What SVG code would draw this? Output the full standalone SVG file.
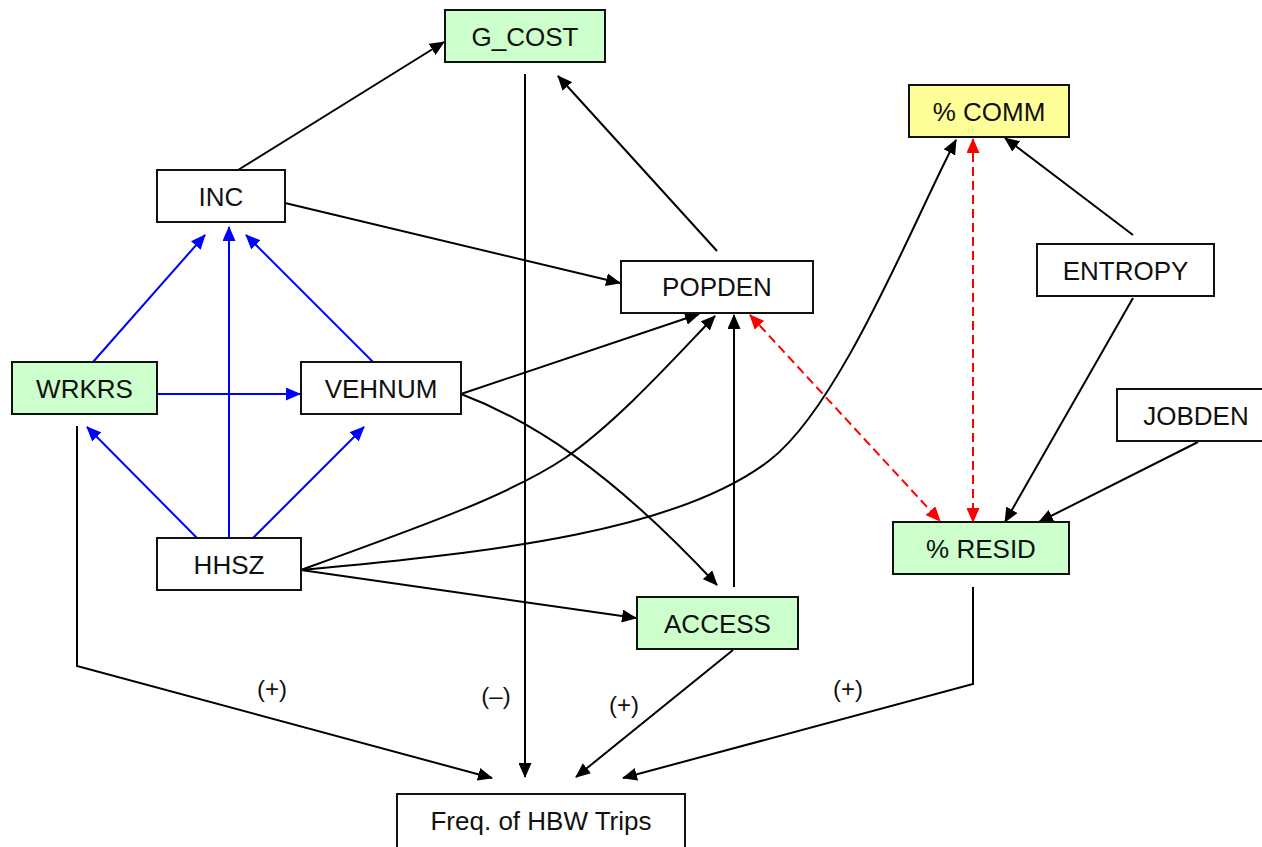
<svg xmlns="http://www.w3.org/2000/svg" width="1262" height="847" viewBox="0 0 1262 847">
  <style>
    .box { fill: #ffffff; stroke: #111111; stroke-width: 2; }
    .green { fill: #ccffcc; }
    .yellow { fill: #ffff99; }
    .lbl { font-family: "Liberation Sans", Arial, sans-serif; font-size: 26px; fill: #111111; text-anchor: middle; }
    .sign { font-family: "Liberation Sans", Arial, sans-serif; font-size: 24px; fill: #111111; text-anchor: middle; }
    .edge { fill: none; stroke: #000000; stroke-width: 2; marker-end: url(#ah); }
    .blue { stroke: #0000ff; marker-end: url(#ahBlue); }
    .red { stroke: #ff0000; stroke-dasharray: 9 5; marker-end: url(#ahRed); marker-start: url(#ahRedStart); }
  </style>
  <defs>
    <marker id="ah" viewBox="0 0 15 13" refX="14" refY="6.5" markerWidth="15" markerHeight="13" markerUnits="userSpaceOnUse" orient="auto">
      <path d="M0,0 L15,6.5 L0,13 z" fill="#000000"/>
    </marker>
    <marker id="ahBlue" viewBox="0 0 15 13" refX="14" refY="6.5" markerWidth="15" markerHeight="13" markerUnits="userSpaceOnUse" orient="auto">
      <path d="M0,0 L15,6.5 L0,13 z" fill="#0000ff"/>
    </marker>
    <marker id="ahRed" viewBox="0 0 15 13" refX="14" refY="6.5" markerWidth="15" markerHeight="13" markerUnits="userSpaceOnUse" orient="auto">
      <path d="M0,0 L15,6.5 L0,13 z" fill="#ff0000"/>
    </marker>
    <marker id="ahRedStart" viewBox="0 0 15 13" refX="1" refY="6.5" markerWidth="15" markerHeight="13" markerUnits="userSpaceOnUse" orient="auto">
      <path d="M15,0 L0,6.5 L15,13 z" fill="#ff0000"/>
    </marker>
  </defs>

  <rect width="1262" height="847" fill="#ffffff"/>

  <!-- connectors -->
  <g id="connectors">
    <!-- household block (blue) -->
    <path class="edge blue" d="M93,362 L205,235"/>
    <path class="edge blue" d="M229,538 L229,227"/>
    <path class="edge blue" d="M373,362 L246,235"/>
    <path class="edge blue" d="M157,394 L300,394"/>
    <path class="edge blue" d="M197,538 L87,427"/>
    <path class="edge blue" d="M253,538 L364,427"/>

    <!-- black influences -->
    <path class="edge" d="M238,170 L444,42"/>
    <path class="edge" d="M525,74 L525,777"/>
    <path class="edge" d="M717,251 L558,76"/>
    <path class="edge" d="M285,203 L620,283"/>
    <path class="edge" d="M461,394 L699,314"/>
    <path class="edge" d="M461,394 C530,420 610,470 717,585"/>
    <path class="edge" d="M301,570 C420,527 510,495 565,458 C620,420 680,352 715,316"/>
    <path class="edge" d="M301,570 C500,552 680,530 770,460 C842,404 916,215 956,140"/>
    <path class="edge" d="M301,570 L636,618"/>
    <path class="edge" d="M734,587 L734,315"/>
    <path class="edge" d="M1133,235 L1005,138"/>
    <path class="edge" d="M1133,298 L1005,522"/>
    <path class="edge" d="M1198,442 L1039,522"/>

    <!-- into trip frequency -->
    <path class="edge" d="M77,426 L77,666 L492,778"/>
    <path class="edge" d="M733,650 L576,777"/>
    <path class="edge" d="M973,587 L973,684 L623,778"/>

    <!-- two-way links (red dashed) -->
    <path class="edge red" d="M750,315 L940,521"/>
    <path class="edge red" d="M973,139 L973,522"/>
  </g>

  <!-- sign labels -->
  <g id="signs">
    <text class="sign" x="272" y="697">(+)</text>
    <text class="sign" x="496" y="704">(–)</text>
    <text class="sign" x="624" y="713">(+)</text>
    <text class="sign" x="848" y="697">(+)</text>
  </g>

  <!-- nodes -->
  <g id="g_cost">
    <rect class="box green" x="445" y="10" width="160" height="52"/>
    <text class="lbl" x="525" y="45.5">G_COST</text>
  </g>
  <g id="pct_comm">
    <rect class="box yellow" x="909" y="85" width="160" height="52"/>
    <text class="lbl" x="989" y="120.5">% COMM</text>
  </g>
  <g id="inc">
    <rect class="box" x="157" y="170" width="128" height="52"/>
    <text class="lbl" x="221" y="205.5">INC</text>
  </g>
  <g id="entropy">
    <rect class="box" x="1037" y="244" width="177" height="52"/>
    <text class="lbl" x="1125.5" y="279.5">ENTROPY</text>
  </g>
  <g id="popden">
    <rect class="box" x="621" y="261" width="192" height="52"/>
    <text class="lbl" x="717" y="296">POPDEN</text>
  </g>
  <g id="wrkrs">
    <rect class="box green" x="12" y="362" width="145" height="52"/>
    <text class="lbl" x="84.5" y="397.5">WRKRS</text>
  </g>
  <g id="vehnum">
    <rect class="box" x="301" y="362" width="160" height="52"/>
    <text class="lbl" x="381" y="397.5">VEHNUM</text>
  </g>
  <g id="jobden">
    <rect class="box" x="1117" y="389" width="170" height="52"/>
    <text class="lbl" x="1196" y="424.5">JOBDEN</text>
  </g>
  <g id="pct_resid">
    <rect class="box green" x="893" y="522" width="176" height="52"/>
    <text class="lbl" x="981" y="557.5">% RESID</text>
  </g>
  <g id="hhsz">
    <rect class="box" x="157" y="538" width="144" height="52"/>
    <text class="lbl" x="229" y="573.5">HHSZ</text>
  </g>
  <g id="access">
    <rect class="box green" x="637" y="597" width="161" height="52"/>
    <text class="lbl" x="717.5" y="632.5">ACCESS</text>
  </g>
  <g id="freq_hbw">
    <rect class="box" x="397" y="794" width="288" height="54"/>
    <text class="lbl" x="541" y="830">Freq. of HBW Trips</text>
  </g>
</svg>
